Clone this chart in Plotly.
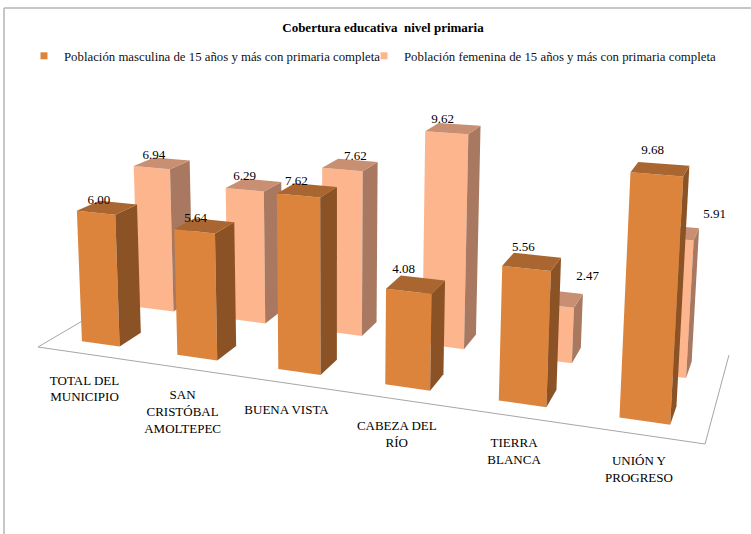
import numpy as np
import plotly.graph_objects as go

TITLE = "Cobertura educativa  nivel primaria"
categories = ["TOTAL DEL<br>MUNICIPIO", "SAN<br>CRISTÓBAL<br>AMOLTEPEC", "BUENA VISTA",
              "CABEZA DEL<br>RÍO", "TIERRA<br>BLANCA", "UNIÓN Y<br>PROGRESO"]
male_name = "Población masculina de 15 años y más con primaria completa"
female_name = "Población femenina de 15 años y más con primaria completa"
male_values = [6.00, 5.64, 7.62, 4.08, 5.56, 9.68]
female_values = [6.94, 6.29, 7.62, 9.62, 2.47, 5.91]

FONT = "Liberation Serif"
MALE = ("#DD843C", "#8B5226", "#A96630")     # front, side, top
FEMALE = ("#FDB58E", "#A87860", "#C88F72")

# Perspective of the 3-D column chart: floor (u, v) plus height z -> picture axes
P = np.array([[550.0, 129.8, 333.0 * -0.003333, 38.0],
              [23.3, -20.6, 6812.0 * -0.003333, 347.0],
              [-0.166, 0.1507, -0.003333, 1.0]])


def project(u, v, z=0.0):
    x, y, w = P @ np.array([u, v, z, 1.0])
    return x / w, y / w


BAR_W = 0.067
MALE_DEPTH = (0.135, 0.33)
FEMALE_DEPTH = (0.655, 0.86)
n = len(categories)
fig = go.Figure()


def polygon(points, colour, group):
    xs, ys = zip(*[project(*p) for p in points])
    fig.add_trace(go.Scatter(x=list(xs) + [xs[0]], y=list(ys) + [ys[0]], mode="none", fill="toself",
                             fillcolor=colour, showlegend=False, hoverinfo="skip", legendgroup=group))


def bars(values, depth, colours, group):
    v0, v1 = depth
    for i, z in enumerate(values):
        c = (i + 0.5) / n
        u0, u1 = c - BAR_W / 2, c + BAR_W / 2
        polygon([(u0, v0, 0), (u1, v0, 0), (u1, v0, z), (u0, v0, z)], colours[0], group)
        polygon([(u1, v0, 0), (u1, v1, 0), (u1, v1, z), (u1, v0, z)], colours[1], group)
        polygon([(u0, v0, z), (u1, v0, z), (u1, v1, z), (u0, v1, z)], colours[2], group)


# floor outline (open at the back)
floor = [project(0, 1), project(0, 0), project(1, 0), project(1, 1)]
fig.add_trace(go.Scatter(x=[p[0] for p in floor], y=[p[1] for p in floor], mode="lines",
                         line=dict(color="#a6a6a6", width=1), showlegend=False, hoverinfo="skip"))

bars(female_values, FEMALE_DEPTH, FEMALE, "f")
bars(male_values, MALE_DEPTH, MALE, "m")

# data labels, anchored on the front top edge of each column, with the reference's hand placement
MALE_NUDGE = [(3, 0), (1, 0), (-2, -1), (-5, -9), (-3, -8), (-4, -11)]
FEMALE_NUDGE = [(2, 1), (0, 0), (13, 0), (-4, 0), (36, -16), (45, -11)]
for values, depth, nudges in ((male_values, MALE_DEPTH, MALE_NUDGE), (female_values, FEMALE_DEPTH, FEMALE_NUDGE)):
    xs, ys, ts = [], [], []
    for i, z in enumerate(values):
        x, y = project((i + 0.5) / n, depth[0], z)
        xs.append(x + nudges[i][0])
        ys.append(y + nudges[i][1] - 6)
        ts.append(f"{z:.2f}")
    fig.add_trace(go.Scatter(x=xs, y=ys, text=ts, mode="text", textposition="top center",
                             textfont=dict(family=FONT, size=13, color="#000000"),
                             showlegend=False, hoverinfo="skip"))

# category labels
pts = [project((i + 0.5) / n, 0) for i in range(n)]
fig.add_trace(go.Scatter(x=[p[0] - 0.5 for p in pts], y=[p[1] + 21 for p in pts], text=categories, mode="text",
                         textposition="bottom center", textfont=dict(family=FONT, size=13, color="#000000"),
                         showlegend=False, hoverinfo="skip"))

# legend entries
for name, col, grp, leg in ((male_name, MALE[0], "m", "legend"), (female_name, FEMALE[0], "f", "legend2")):
    fig.add_trace(go.Scatter(x=[None], y=[None], mode="markers", name=name, legendgroup=grp, legend=leg,
                             showlegend=True, marker=dict(symbol="square", size=7, color=col)))

legend_style = dict(orientation="h", xanchor="left", y=1 - 56 / 534, yanchor="middle",
                    font=dict(family=FONT, size=12.8, color="#111111"), bgcolor="rgba(0,0,0,0)", itemwidth=30)
fig.update_layout(
    width=751, height=534, margin=dict(l=0, r=0, t=0, b=0),
    paper_bgcolor="white", plot_bgcolor="white",
    xaxis=dict(range=[0, 751], visible=False, fixedrange=True),
    yaxis=dict(range=[534, 0], visible=False, fixedrange=True),
    title=dict(text=f"<b>{TITLE}</b>", x=383 / 751, xanchor="center", y=1 - 27 / 534, yanchor="middle",
               font=dict(family=FONT, size=13, color="#000000")),
    legend=dict(x=24 / 751, **legend_style),
    legend2=dict(x=364 / 751, **legend_style),
    shapes=[dict(type="line", xref="paper", yref="paper", x0=4 / 751, x1=4 / 751, y0=0, y1=1 - 8 / 534,
                 line=dict(color="#b5b5b5", width=1.5)),
            dict(type="line", xref="paper", yref="paper", x0=4 / 751, x1=1, y0=1 - 8 / 534, y1=1 - 8 / 534,
                 line=dict(color="#b5b5b5", width=1.5))],
)
fig.write_html("out.html", config=dict(displayModeBar=False),
               post_script="document.body.style.margin='0';document.body.style.overflow='hidden';")
